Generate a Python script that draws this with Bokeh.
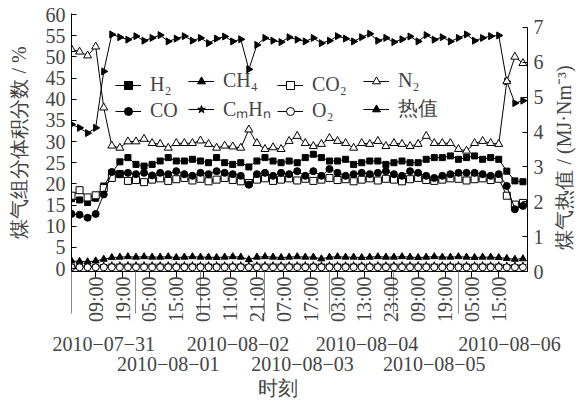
import math
from bokeh.plotting import figure
from bokeh.models import Range1d, LinearAxis, FixedTicker, Legend, LegendItem
from bokeh.embed import file_html
from bokeh.resources import INLINE

# ---------------- data (hours since 2010-07-31 00:00) ----------------
hours = [0, 3, 6, 9, 12, 15, 18, 21, 24, 27, 30, 33, 36, 39, 42, 45, 48, 51, 54, 57,
         60, 63, 66, 69, 72, 75, 78, 81, 84, 87, 90, 93, 96, 99, 102, 105, 108, 111,
         114, 117, 120, 123, 126, 129, 132, 135, 138, 141, 144, 147, 150, 153, 156,
         159, 162, 165, 168]

h2 = [16.5, 16.2, 15.6, 16.6, 19.5,
      22.6, 25.2, 26.2, 24.6, 24.2, 24.6, 25.4, 26.2, 25.4, 25.4, 25.8, 25.4, 25.0,
      26.2, 25.0, 24.6, 25.0, 24.0, 25.4, 26.2, 25.4, 25.0, 25.4, 25.0,
      26.2, 27.0, 26.2, 25.4, 25.4, 25.8, 24.6, 25.0, 25.4, 25.4, 24.6, 25.0, 25.4,
      25.0, 25.0, 25.8, 26.2, 26.2, 26.6, 25.8, 26.2, 26.6, 25.8, 26.2, 25.8,
      23.0, 20.7, 20.5]

co = [12.9, 12.7, 12.0, 12.9, 17.5,
      22.8, 22.3, 22.6, 22.3, 22.6, 22.0, 22.6, 22.3, 23.0, 22.3, 21.9, 22.6, 22.3,
      23.0, 22.6, 22.3, 21.9, 19.8, 22.3, 22.6, 21.9, 22.6, 22.3, 23.0,
      21.9, 23.0, 21.9, 23.5, 22.6, 21.9, 22.3, 22.6, 22.3, 22.6, 23.0, 22.3, 21.9,
      23.0, 22.6, 21.9, 21.4, 21.9, 22.3, 22.6, 22.6, 22.6, 22.3, 21.9, 22.3,
      19.5, 14.0, 14.8]

ch4 = [1.8, 1.7, 1.6, 1.8, 2.2,
       2.6, 2.7, 2.8, 2.7, 2.8, 2.7, 2.7, 2.8, 2.6, 2.7, 2.8, 2.7, 2.7, 2.6, 2.7,
       2.8, 2.7, 2.1,
       2.7, 2.8, 2.7, 2.6, 2.7, 2.8, 2.7, 2.7, 2.3, 2.7, 2.8, 2.7, 2.7, 2.6, 2.7,
       2.8, 2.7, 2.7, 2.8, 2.7, 2.6, 2.7, 2.8, 2.7, 2.7, 2.8, 2.7, 2.6, 2.7, 2.7,
       2.6, 2.4, 2.2, 2.3]

cmhn = [0.6, 0.6, 0.6, 0.6, 0.7,
        0.8, 0.8, 0.8, 0.8, 0.8, 0.8, 0.8, 0.8, 0.8, 0.8, 0.8, 0.8, 0.8, 0.8, 0.8,
        0.8, 0.8, 0.7, 0.8, 0.8, 0.8, 0.8, 0.8, 0.8, 0.8, 0.8, 0.8, 0.8, 0.8, 0.8,
        0.8, 0.8, 0.8, 0.8, 0.8, 0.8, 0.8, 0.8, 0.8, 0.8, 0.8, 0.8, 0.8, 0.8, 0.8,
        0.8, 0.8, 0.8, 0.8, 0.7, 0.7, 0.7]

co2 = [17.2, 18.5, 16.8, 17.3, 19.0,
       21.4, 22.3, 20.7, 20.9, 20.4, 21.0, 21.3, 20.7, 21.1, 21.4, 20.8, 21.2, 20.6,
       21.0, 21.4, 20.9, 20.6, 20.2, 21.0, 21.3, 20.7, 21.0, 21.3, 20.8,
       21.2, 20.7, 21.0, 21.4, 20.9, 21.1, 20.6, 21.0, 21.3, 20.8, 21.2, 21.0, 20.6,
       21.1, 21.4, 20.9, 20.7, 21.0, 21.3, 21.2, 20.8, 21.1, 21.3, 20.9, 21.2,
       17.2, 15.1, 15.5]

o2 = [0.3, 0.3, 0.3, 0.3, 0.3, 0.3, 0.3, 0.3, 0.3, 0.3, 0.3, 0.3, 0.3, 0.3, 0.3,
      0.3, 0.3, 0.3, 0.3, 0.3, 0.3, 0.3, 0.3, 0.3, 0.3, 0.3, 0.3, 0.3, 0.3, 0.3,
      0.3, 0.3, 0.3, 0.3, 0.3, 0.3, 0.3, 0.3, 0.3, 0.3, 0.3, 0.3, 0.3, 0.3, 0.3,
      0.3, 0.3, 0.3, 0.3, 0.3, 0.3, 0.3, 0.3, 0.3, 0.3, 0.3, 0.3]

n2 = [51.8, 51.2, 50.3, 52.4, 38.0,
      29.0, 28.5, 30.0, 30.0, 30.6, 29.6, 29.4, 28.5, 29.6, 29.6, 29.6, 30.2, 29.4,
      28.5, 29.0, 28.8, 28.5, 32.8, 29.6, 28.2, 28.6, 28.2, 30.1, 31.3,
      29.6, 28.9, 29.4, 30.8, 30.1, 29.6, 28.5, 29.6, 29.4, 30.1, 28.9, 29.6, 29.4,
      28.9, 29.4, 31.3, 29.6, 29.6, 29.6, 28.2, 27.8, 29.6, 30.1, 29.6, 29.4,
      44.2, 50.0, 48.5]

heat = [4.22, 4.12, 3.97, 4.12, 5.74,
        6.80, 6.72, 6.65, 6.75, 6.62, 6.70, 6.78, 6.60, 6.68, 6.75, 6.62, 6.70, 6.55,
        6.68, 6.74, 6.60, 6.66, 5.80,
        6.50, 6.70, 6.62, 6.58, 6.72, 6.65, 6.60, 6.70, 6.55, 6.62, 6.75, 6.68, 6.60,
        6.72, 6.82, 6.62, 6.70, 6.58, 6.66, 6.74, 6.60, 6.78, 6.65, 6.72, 6.60, 6.70,
        6.80, 6.62, 6.70, 6.75, 6.77,
        5.45, 4.83, 4.90]

left_ticks = [0, 5, 10, 15, 20, 25, 30, 35, 40, 45, 50, 55, 60]
right_ticks = [0, 1, 2, 3, 4, 5, 6, 7]
time_ticks = [9, 19, 29, 39, 49, 59, 69, 79, 89, 99, 109, 119, 129, 139, 149, 159]
time_labels = ["09:00", "19:00", "05:00", "15:00", "01:00", "11:00", "21:00", "07:00",
               "17:00", "03:00", "13:00", "23:00", "09:00", "19:00", "05:00", "15:00"]
day_breaks = [0, 24, 48, 72, 96, 120, 144]
date_row1_pos = [12, 62, 110, 163]
date_row1_lab = ["2010−07−31", "2010−08−02", "2010−08−04", "2010−08−06"]
date_row2_pos = [36, 86, 135]
date_row2_lab = ["2010−08−01", "2010−08−03", "2010−08−05"]
xlabel_pos = [77]
xlabel_txt = ["时刻"]
right_title = "煤气热值 / (MJ·Nm⁻³)"

FONT = "Liberation Serif"
FS = "20px"

p = figure(width=588, height=401, x_range=Range1d(0, 169.7), y_range=Range1d(-0.7, 60.24),
           output_backend="svg", toolbar_location=None,
           x_axis_location=None, y_axis_location=None,
           min_border_left=71, min_border_right=61, min_border_top=13, min_border_bottom=130)
p.grid.visible = False
p.outline_line_color = None
# "rlab" is a pixel-like helper range used only to place the right-hand title
p.extra_y_ranges = {"right": Range1d(0, 7.4), "rlab": Range1d(0, 258)}

ya = LinearAxis(ticker=FixedTicker(ticks=left_ticks), axis_label="煤气组分体积分数 / %")
yr = LinearAxis(ticker=FixedTicker(ticks=right_ticks), y_range_name="right", bounds=(0, 7))
for ax in (ya, yr):
    ax.major_tick_in = 5
    ax.major_tick_out = 0
    ax.minor_tick_line_color = None
    ax.major_label_text_font = FONT
    ax.major_label_text_font_size = FS
    ax.major_label_standoff = 6
    ax.axis_label_text_font = FONT
    ax.axis_label_text_font_size = "20px"
    ax.axis_label_text_font_style = "normal"
    ax.axis_label_standoff = 13
    ax.axis_line_color = "black"
p.add_layout(ya, "left")
p.add_layout(yr, "right")

# right-hand title, written as the single tick label of a bare axis so it reads upward
rt = LinearAxis(y_range_name="rlab", ticker=FixedTicker(ticks=[22], minor_ticks=[]),
                major_label_overrides={22: right_title})
rt.major_label_orientation = math.pi / 2
rt.axis_line_color = None
rt.major_tick_line_color = None
rt.minor_tick_line_color = None
rt.major_tick_out = 0
rt.major_tick_in = 0
rt.major_label_standoff = 17
rt.major_label_text_font = FONT
rt.major_label_text_font_size = "20px"
p.add_layout(rt, "right")

# bottom time axis; day separators are long minor ticks
xa = LinearAxis(ticker=FixedTicker(ticks=time_ticks, minor_ticks=day_breaks),
                major_label_overrides=dict(zip(time_ticks, time_labels)))
xa.major_label_orientation = math.pi / 2
xa.major_tick_out = 6
xa.major_tick_in = 0
xa.minor_tick_out = 42
xa.minor_tick_in = 0
xa.minor_tick_line_color = "#8a8a8a"
xa.major_label_text_font = FONT
xa.major_label_text_font_size = FS
xa.major_label_standoff = -37
p.add_layout(xa, "below")


def label_axis(pos, labs, standoff):
    a = LinearAxis(ticker=FixedTicker(ticks=pos, minor_ticks=[]),
                   major_label_overrides=dict(zip(pos, labs)))
    a.axis_line_color = None
    a.major_tick_line_color = None
    a.minor_tick_line_color = None
    a.major_tick_out = 0
    a.major_tick_in = 0
    a.major_label_standoff = standoff
    a.major_label_text_font = FONT
    a.major_label_text_font_size = FS
    return a


p.add_layout(label_axis(date_row1_pos, date_row1_lab, 11), "below")
p.add_layout(label_axis(date_row2_pos, date_row2_lab, 3), "below")
p.add_layout(label_axis(xlabel_pos, xlabel_txt, 3), "below")

LW = 1.0


def series(name, ys, marker, size, fill, angle=0.0, rng="default"):
    kw = {} if rng == "default" else {"y_range_name": rng}
    r1 = p.line(hours, ys, line_color="black", line_width=LW, **kw)
    r2 = p.scatter(hours, ys, marker=marker, size=size, line_color="black",
                   fill_color=fill, line_width=1, angle=angle, **kw)
    return LegendItem(label=name, renderers=[r1, r2])


it_heat = series("热值", heat, "triangle", 7, "black", angle=-math.pi / 2, rng="right")
it_n2 = series("N₂", n2, "triangle", 8, "white")
it_h2 = series("H₂", h2, "square", 6, "black")
it_co2 = series("CO₂", co2, "square", 7, "white")
it_co = series("CO", co, "circle", 7, "black")
it_ch4 = series("CH₄", ch4, "triangle", 7, "black")
it_cmhn = series("CₘHₙ", cmhn, "star", 7, "black")
it_o2 = series("O₂", o2, "circle", 7, "white")

columns = [([it_h2, it_co], 44), ([it_ch4, it_cmhn], 117),
           ([it_co2, it_o2], 206), ([it_n2, it_heat], 292)]
for its, lx in columns:
    lg = Legend(items=its, location=(lx, 149), orientation="vertical")
    lg.padding = 0
    lg.margin = 0
    lg.spacing = 3
    lg.glyph_width = 26
    lg.glyph_height = 20
    lg.label_height = 20
    lg.label_standoff = 9
    lg.label_text_font = FONT
    lg.label_text_font_size = FS
    lg.border_line_color = None
    lg.background_fill_alpha = 0
    p.add_layout(lg)

open("out.html", "w").write(file_html(p, INLINE))
